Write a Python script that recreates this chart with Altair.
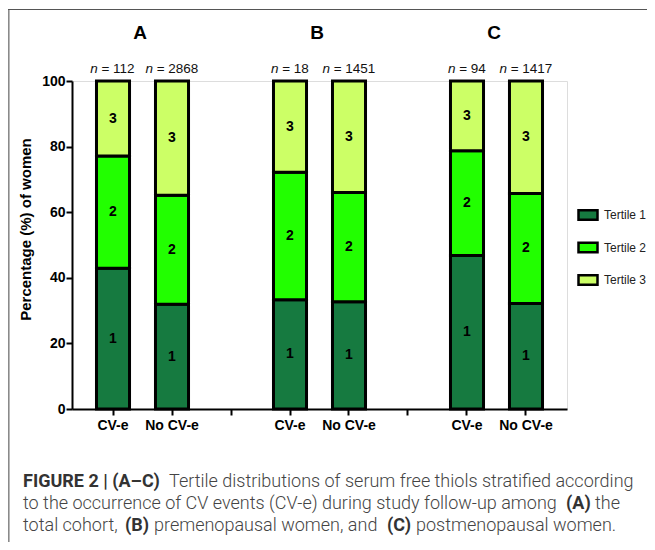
import altair as alt
import pandas as pd

# ---------------- data ----------------
panels = ["A", "B", "C"]
groups = ["CV-e", "No CV-e"]
n_counts = [112, 2868, 18, 1451, 94, 1417]          # A CV-e, A No, B CV-e, B No, C CV-e, C No
tertile1 = [42.9, 31.9, 33.3, 32.7, 46.8, 32.2]
tertile2 = [34.2, 33.3, 38.9, 33.3, 31.9, 33.5]
tertile3 = [22.9, 34.8, 27.8, 34.0, 21.3, 34.3]
tertile_names = ["Tertile 1", "Tertile 2", "Tertile 3"]
tertile_labels = ["1", "2", "3"]
colors = ["#167a40", "#22ff00", "#ccff66"]
y_ticks = [0, 20, 40, 60, 80, 100]
y_title = "Percentage (%) of women"

caption_lines = [
    [("FIGURE 2 | (A–C)", True), ("Tertile distributions of serum free thiols stratified according", False)],
    [("to the occurrence of CV events (CV-e) during study follow-up among", False), ("(A)", True), ("the", False)],
    [("total cohort,", False), ("(B)", True), ("premenopausal women, and", False), ("(C)", True),
     ("postmenopausal women.", False)],
]

# x domain: bar slots with an empty separator slot between panels
x_domain = []
bar_keys = []
for i, p in enumerate(panels):
    for g in groups:
        x_domain.append(f"{p} {g}")
        bar_keys.append(f"{p} {g}")
    if i < len(panels) - 1:
        x_domain.append(f"{p}{panels[i + 1]}")

rows = []
for k, key in enumerate(bar_keys):
    for t, vals in enumerate([tertile1, tertile2, tertile3]):
        rows.append({"key": key, "tertile": tertile_names[t], "lab": tertile_labels[t],
                     "ord": t, "pct": vals[k]})
df = pd.DataFrame(rows)

n_df = pd.DataFrame({"key": bar_keys,
                     "rest": [f"= {n}" for n in n_counts],
                     "ndig": [len(str(n)) for n in n_counts]})
panel_df = pd.DataFrame({"panel": panels, "key": [f"{p} {groups[0]}" for p in panels]})

FONT = "Liberation Sans"

x_enc = alt.X("key:N",
              scale=alt.Scale(domain=x_domain, paddingInner=0.44, paddingOuter=0.415),
              axis=alt.Axis(title=None, labelAngle=0, labelFont=FONT, labelFontSize=14,
                            labelFontWeight="bold", labelColor="black", tickColor="black",
                            tickWidth=2, tickSize=6, domainColor="black", domainWidth=2,
                            labelPadding=3,
                            labelExpr="indexof(datum.label, 'CV-e') >= 0 ? substring(datum.label, 2) : ''"))

y_scale = alt.Scale(domain=[0, 100], nice=False)

base = alt.Chart(df).transform_stack(
    stack="pct", as_=["y0", "y1"], groupby=["key"], sort=[alt.SortField("ord", order="ascending")]
).transform_calculate(mid="(datum.y0 + datum.y1) / 2")

bars = base.mark_bar(stroke="black", strokeWidth=3).encode(
    x=x_enc,
    y=alt.Y("y0:Q", scale=y_scale,
            axis=alt.Axis(title=y_title, values=y_ticks, grid=False, labelFont=FONT,
                          labelFontSize=14, labelFontWeight="bold", labelColor="black",
                          tickColor="black", tickWidth=2, tickSize=6, domainColor="black",
                          domainWidth=2, labelPadding=1, titleFont=FONT, titleFontSize=15,
                          titleFontWeight="bold", titleColor="black", titlePadding=8, titleY=148)),
    y2="y1:Q",
    color=alt.Color("tertile:N", scale=alt.Scale(domain=tertile_names, range=colors),
                    legend=alt.Legend(title=None, orient="none", legendX=505, legendY=123,
                                      symbolType="M-1,-0.5H1V0.5H-1Z", symbolSize=361,
                                      symbolStrokeColor="black", symbolStrokeWidth=2.5,
                                      symbolOpacity=1, labelFont=FONT, labelFontSize=12,
                                      labelColor="#222", labelOffset=5, rowPadding=11.5,
                                      labelLimit=80, padding=0)),
)

seg_text = base.mark_text(font=FONT, fontSize=14, fontWeight="bold", color="black",
                          baseline="middle").encode(
    x=alt.X("key:N", scale=alt.Scale(domain=x_domain)),
    y=alt.Y("mid:Q", scale=y_scale),
    text="lab:N",
)

panel_text = alt.Chart(panel_df).mark_text(font=FONT, fontSize=19, fontWeight="bold",
                                           color="black", baseline="middle", dx=27).encode(
    x=alt.X("key:N", scale=alt.Scale(domain=x_domain)),
    y=alt.value(-48),
    text="panel:N",
)

# n = ... labels: italic "n" + regular "= value", centred over each bar
n_layers = []
for L in sorted(set(n_df["ndig"])):
    W = 23 + 7.5 * L
    sub = alt.Chart(n_df).transform_filter(f"datum.ndig == {L}")
    n_layers.append(sub.mark_text(font=FONT, fontSize=13.5, fontStyle="italic", color="#111",
                                  align="left", baseline="middle", dx=-W / 2).encode(
        x=alt.X("key:N", scale=alt.Scale(domain=x_domain)), y=alt.value(-12), text=alt.value("n")))
    n_layers.append(sub.mark_text(font=FONT, fontSize=13.5, color="#111", align="left",
                                  baseline="middle", dx=-W / 2 + 11.2).encode(
        x=alt.X("key:N", scale=alt.Scale(domain=x_domain)), y=alt.value(-12), text="rest:N"))

# caption (page x minus 72 for plot coordinates)
one = pd.DataFrame({"a": [0]})
cap_x = [[-49, 97], [-49, 494, 523], [-49, 53, 82, 315, 344]]
cap_y = [401, 423, 445]
cap_layers = []
for li, line in enumerate(caption_lines):
    for si, (txt, bold) in enumerate(line):
        cap_layers.append(alt.Chart(one).mark_text(
            font="Roboto", fontSize=18, fontWeight="bold" if bold else 300,
            color="#333" if bold else "#444", align="left", baseline="middle", text=txt
        ).encode(x=alt.value(cap_x[li][si]), y=alt.value(cap_y[li])))

frame_left = alt.Chart(one).mark_rule(color="#8a8a8a", strokeWidth=1.6).encode(
    x=alt.value(-63.2), y=alt.value(-72), y2=alt.value(470))
frame_top = alt.Chart(one).mark_rule(color="#555", strokeWidth=1.2).encode(
    x=alt.value(-64), x2=alt.value(600), y=alt.value(-71.5))

chart = alt.layer(bars, seg_text, panel_text, *n_layers, *cap_layers, frame_left, frame_top).properties(
    width=495, height=328,
    padding={"left": 64, "top": 73, "right": 80, "bottom": 133},
    autosize=alt.AutoSizeParams(type="none"),
).configure_view(stroke=None).configure(background="white")

chart.save("out.html", embed_options={"renderer": "svg", "actions": False})
